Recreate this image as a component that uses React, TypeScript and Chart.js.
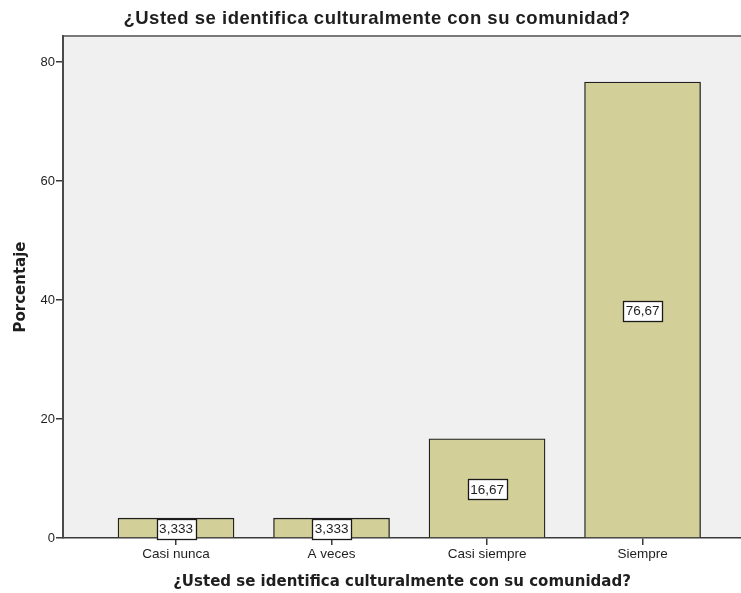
import React, { useEffect, useRef } from "react";
import { Chart, registerables } from "chart.js";

Chart.register(...registerables);

const TITLE = "¿Usted se identifica culturalmente con su comunidad?";
const X_TITLE = "¿Usted se identifica culturalmente con su comunidad?";
const Y_TITLE = "Porcentaje";
const CATEGORIES = ["Casi nunca", "A veces", "Casi siempre", "Siempre"];
const VALUES = [3.333, 3.333, 16.67, 76.67];
const VALUE_LABELS = ["3,333", "3,333", "16,67", "76,67"];
const Y_TICKS = [0, 20, 40, 60, 80];

const BAR_FILL = "#d3cf98";
const BAR_BORDER = "#1f1f1f";
const PLOT_BG = "#f0f0f0";
const TEXT = "#1e1e1e";

const bgPlugin = {
  id: "plotBg",
  beforeDraw(chart: any) {
    const { ctx, chartArea } = chart;
    ctx.save();
    ctx.fillStyle = "#ffffff";
    ctx.fillRect(0, 0, chart.width, chart.height);
    ctx.fillStyle = PLOT_BG;
    ctx.fillRect(chartArea.left, chartArea.top, chartArea.right - chartArea.left, chartArea.bottom - chartArea.top);
    ctx.strokeStyle = "#7a7a7a";
    ctx.lineWidth = 2;
    ctx.beginPath();
    ctx.moveTo(chartArea.left, chartArea.top);
    ctx.lineTo(chartArea.right, chartArea.top);
    ctx.stroke();
    ctx.restore();
  },
};

const titlePlugin = {
  id: "topTitle",
  afterDraw(chart: any) {
    const { ctx } = chart;
    ctx.save();
    ctx.fillStyle = TEXT;
    ctx.font = "bold 18.5px 'Liberation Sans', Arial, sans-serif";
    (ctx as any).letterSpacing = "0.5px";
    ctx.textAlign = "center";
    ctx.textBaseline = "middle";
    ctx.fillText(TITLE, 377, 19);
    ctx.restore();
  },
};

const valueLabelPlugin = {
  id: "valueLabels",
  afterDatasetsDraw(chart: any) {
    const { ctx } = chart;
    const meta = chart.getDatasetMeta(0);
    ctx.save();
    ctx.font = "13.5px 'Liberation Sans', Arial, sans-serif";
    ctx.textAlign = "center";
    ctx.textBaseline = "middle";
    meta.data.forEach((bar: any, i: number) => {
      const label = VALUE_LABELS[i];
      const cx = bar.x;
      const cy = (bar.y + bar.base) / 2 + 1;
      const w = Math.round(ctx.measureText(label).width + 5);
      const h = 20;
      const x0 = Math.round(cx - w / 2) + 0.5;
      const y0 = Math.round(cy - h / 2) + 0.5;
      ctx.fillStyle = "#ffffff";
      ctx.fillRect(x0, y0, w, h);
      ctx.strokeStyle = "#1a1a1a";
      ctx.lineWidth = 1.3;
      ctx.strokeRect(x0, y0, w, h);
      ctx.fillStyle = TEXT;
      ctx.fillText(label, cx, cy + 1);
    });
    ctx.restore();
  },
};

export default function App() {
  const ref = useRef<HTMLCanvasElement | null>(null);

  useEffect(() => {
    document.body.style.margin = "0";
    if (!ref.current) return;
    const chart = new Chart(ref.current, {
      type: "bar",
      data: {
        datasets: [
          {
            data: VALUES.map((v, i) => ({ x: i, y: v })),
            backgroundColor: BAR_FILL,
            borderColor: BAR_BORDER,
            borderWidth: 1.3,
            barThickness: 116,
          },
        ],
      },
      options: {
        animation: false,
        responsive: false,
        maintainAspectRatio: false,
        layout: { padding: { top: 36, right: 0, left: 0, bottom: 0 } },
        plugins: {
          legend: { display: false },
          tooltip: { enabled: false },
          title: { display: false },
        },
        scales: {
          x: {
            type: "linear",
            offset: false,
            min: -0.7267,
            max: 3.633,
            afterBuildTicks(scale: any) {
              scale.ticks = CATEGORIES.map((_, i) => ({ value: i }));
            },
            afterFit(scale: any) {
              scale.height = 55;
            },
            ticks: {
              autoSkip: false,
              maxRotation: 0,
              padding: 1,
              color: TEXT,
              font: { family: "'Liberation Sans', Arial, sans-serif", size: 13.5 },
              callback: (v: any) => CATEGORIES[v as number] ?? "",
            },
            grid: {
              offset: false,
              drawOnChartArea: false,
              drawTicks: true,
              tickLength: 7,
              color: "#3a3a3a",
              lineWidth: 1.5,
            },
            border: { display: true, color: "#3a3a3a", width: 1.5 },
            title: {
              display: true,
              text: X_TITLE,
              color: TEXT,
              font: { family: "'DejaVu Sans', Verdana, sans-serif", size: 15, weight: "bold" },
              padding: { top: 0, bottom: 2 },
            },
          },
          y: {
            type: "linear",
            min: 0,
            max: 84.4,
            afterBuildTicks(scale: any) {
              scale.ticks = Y_TICKS.map((v) => ({ value: v }));
            },
            afterFit(scale: any) {
              scale.width = 63;
            },
            ticks: {
              padding: 1,
              color: TEXT,
              font: { family: "'Liberation Sans', Arial, sans-serif", size: 13 },
            },
            grid: {
              drawOnChartArea: false,
              drawTicks: true,
              tickLength: 7,
              color: "#3a3a3a",
              lineWidth: 1.5,
            },
            border: { display: true, color: "#4a4a4a", width: 2 },
            title: {
              display: true,
              text: Y_TITLE,
              color: TEXT,
              font: { family: "'DejaVu Sans', Verdana, sans-serif", size: 15, weight: "bold" },
              padding: { top: 12, bottom: 0 },
            },
          },
        },
      } as any,
      plugins: [bgPlugin, titlePlugin, valueLabelPlugin],
    });
    return () => chart.destroy();
  }, []);

  return (
    <div style={{ width: 741, height: 593 }}>
      <canvas ref={ref} width={741} height={593} style={{ display: "block", width: 741, height: 593 }} />
    </div>
  );
}
